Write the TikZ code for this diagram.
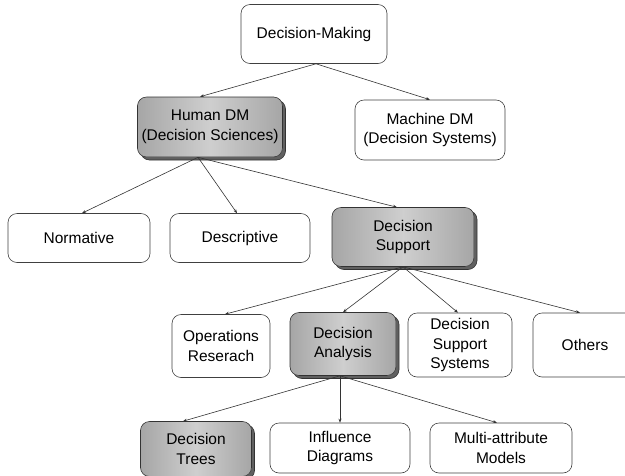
\documentclass[tikz,border=0pt]{standalone}
\usepackage{fontspec}
\setmainfont{Liberation Sans}
\usetikzlibrary{arrows.meta,shadows}
\begin{document}
\begin{tikzpicture}[x=1pt,y=-1pt,
  box/.style={draw=black!75, line width=0.6pt, rounded corners=9pt, align=center,
    font=\fontsize{15.5}{19.5}\selectfont, inner sep=0pt, fill=white},
  sbox/.style={box, draw=black!80, left color=gray!70, right color=gray!70, middle color=gray!38,
    copy shadow={shadow xshift=3pt, shadow yshift=-3pt, fill=gray!75!black, draw=black!80}},
  arr/.style={draw=black!80, line width=0.6pt, -{Stealth[length=4pt,width=3pt]}}]
\useasboundingbox (0,0) rectangle (625,475);
\node[box, minimum width=146pt, minimum height=59pt] (dm) at (314,34) {Decision-Making};
\node[sbox, minimum width=145pt, minimum height=60pt] (hdm) at (210,127) {Human DM\\(Decision Sciences)};
\node[box, minimum width=150pt, minimum height=60pt] (mdm) at (430,130) {Machine DM\\(Decision Systems)};
\node[box, minimum width=142pt, minimum height=49pt] (norm) at (79,238) {Normative};
\node[box, minimum width=140pt, minimum height=49pt] (desc) at (240,238) {Descriptive};
\node[sbox, minimum width=142pt, minimum height=59pt] (ds) at (403,237) {Decision\\Support};
\node[box, minimum width=98pt, minimum height=63pt] (or) at (221,346) {Operations\\Reserach};
\node[sbox, minimum width=106pt, minimum height=63pt] (da) at (343,344) {Decision\\Analysis};
\node[box, minimum width=104pt, minimum height=64pt] (dss) at (460,345) {Decision\\Support\\Systems};
\node[box, minimum width=104pt, minimum height=64pt] (oth) at (585,345) {Others};
\node[sbox, minimum width=111pt, minimum height=55pt] (dt) at (196,449) {Decision\\Trees};
\node[box, minimum width=140pt, minimum height=50pt] (inf) at (340,448) {Influence\\Diagrams};
\node[box, minimum width=142pt, minimum height=50pt] (mam) at (501,448) {Multi-attribute\\Models};
\draw[arr] ([xshift=2pt]dm.south) -- ([xshift=-10pt]hdm.north);
\draw[arr] ([xshift=2pt]dm.south) -- (mdm.north);
\draw[arr] ([xshift=-12pt]hdm.south) -- ([xshift=3pt]norm.north);
\draw[arr] ([xshift=-12pt]hdm.south) -- ([xshift=-3pt]desc.north);
\draw[arr] ([xshift=-12pt]hdm.south) -- ([xshift=-6pt]ds.north);
\draw[arr] (ds.south) -- ([xshift=4pt]or.north);
\draw[arr] (ds.south) -- (da.north);
\draw[arr] (ds.south) -- ([xshift=-2pt]dss.north);
\draw[arr] (ds.south) -- ([xshift=-5pt]oth.north);
\draw[arr] ([xshift=-3pt]da.south) -- ([xshift=-13pt]dt.north);
\draw[arr] ([xshift=-3pt]da.south) -- (inf.north);
\draw[arr] ([xshift=-3pt]da.south) -- ([xshift=-4pt]mam.north);
\end{tikzpicture}
\end{document}
